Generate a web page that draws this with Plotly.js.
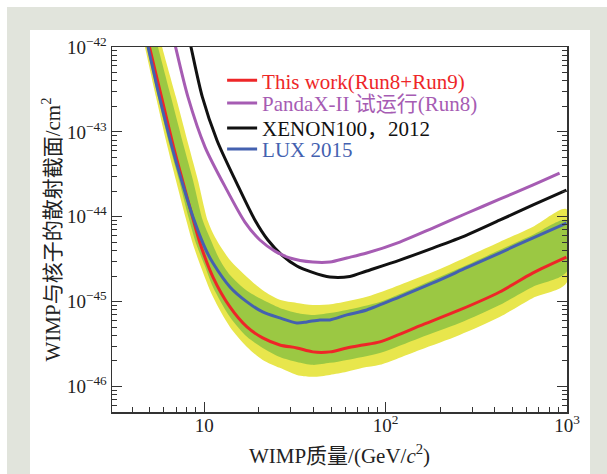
<!DOCTYPE html>
<html>
<head>
<meta charset="utf-8">
<script src="https://cdn.plot.ly/plotly-3.0.1.min.js"></script>
<style>
  html, body { margin:0; padding:0; background:#ffffff; }
  #frame { position:absolute; left:7px; top:7px; width:600px; height:467px; background:#e1e4dc; }
  #panel { position:absolute; left:30px; top:30px; width:560px; height:444px; background:#ffffff; }
  #chart { position:absolute; left:0; top:0; width:607px; height:474px; }
</style>
</head>
<body>
<div id="frame"></div>
<div id="panel"></div>
<div id="chart"></div>
<script>
// ---- Data (WIMP mass in GeV/c^2, cross section in cm^2) ----
const redMass   = [4.74, 4.99, 5.81, 6.77, 7.58, 8.61, 9.47, 11.17, 13.86, 17.2, 21.0, 26.1, 32.4, 39.7, 49.3, 61.1, 74.8, 92.9, 154, 256, 425, 646, 993];
const redSigma  = [1.58e-42, 1e-42, 2.58e-43, 6.67e-44, 2.70e-44, 1.0e-44, 4.91e-45, 1.95e-45, 8.67e-46, 5.04e-46, 3.74e-46, 3.09e-46, 2.85e-46, 2.56e-46, 2.56e-46, 2.85e-46, 3.09e-46, 3.36e-46, 5.18e-46, 7.98e-46, 1.30e-45, 2.17e-45, 3.35e-45];

const luxMass   = [4.68, 4.90, 5.66, 6.64, 7.49, 8.66, 10.22, 11.17, 13.86, 17.2, 21.0, 26.1, 32.4, 36.8, 43.4, 49.3, 61.1, 78.7, 119.7, 182, 280, 425, 646, 993];
const luxSigma  = [1.58e-42, 1e-42, 2.58e-43, 6.67e-44, 2.70e-44, 1.0e-44, 4.06e-45, 2.85e-45, 1.49e-45, 9.93e-46, 7.57e-46, 6.43e-46, 5.62e-46, 5.77e-46, 6.09e-46, 6.09e-46, 6.98e-46, 7.98e-46, 1.14e-45, 1.66e-45, 2.51e-45, 3.74e-45, 5.62e-45, 8.41e-45];

const pandaMass  = [6.62, 6.95, 8.13, 10.09, 13.34, 16.76, 20.28, 24.52, 29.67, 39.7, 49.3, 61.1, 78.7, 119.7, 182, 280, 425, 646, 910];
const pandaSigma = [1.58e-42, 1e-42, 2.58e-43, 6.67e-44, 2.06e-44, 8.67e-45, 5.32e-45, 3.94e-45, 3.27e-45, 2.93e-45, 2.93e-45, 3.27e-45, 3.74e-45, 5.04e-45, 7.36e-45, 1.10e-44, 1.61e-44, 2.36e-44, 3.27e-44];

const xenonMass  = [8.05, 8.45, 9.76, 11.75, 15.1, 19.02, 22.43, 26.79, 32.41, 39.2, 49.27, 63.5, 78.7, 119.7, 182, 280, 425, 646, 993];
const xenonSigma = [1.58e-42, 1e-42, 2.58e-43, 7.98e-44, 2.49e-44, 9.16e-45, 5.32e-45, 3.54e-45, 2.63e-45, 2.23e-45, 1.95e-45, 1.98e-45, 2.30e-45, 3.09e-45, 4.28e-45, 6.09e-45, 9.1e-45, 1.37e-44, 2.06e-44];

// +2 sigma / -2 sigma band (yellow)
const band2UpMass  = [5.57, 5.86, 6.98, 8.24, 9.23, 10.47, 11.45, 13.86, 17.2, 21.0, 26.1, 32.4, 39.7, 51.2, 78.7, 119.7, 182, 280, 425, 646, 993];
const band2UpSigma = [1.58e-42, 1e-42, 2.58e-43, 6.67e-44, 2.70e-44, 8.9e-45, 5.77e-45, 3.09e-45, 1.95e-45, 1.36e-45, 1.05e-45, 9.66e-46, 9.14e-46, 9.4e-46, 1.14e-45, 1.57e-45, 2.23e-45, 3.36e-45, 5.04e-45, 7.57e-45, 1.23e-44];
const band2LoMass  = [4.48, 4.71, 5.42, 6.27, 6.98, 7.93, 8.66, 9.59, 11.17, 13.86, 17.2, 21.0, 26.1, 32.4, 39.7, 49.3, 61.1, 74.8, 92.9, 154, 256, 425, 646, 993];
const band2LoSigma = [1.58e-42, 1e-42, 2.58e-43, 6.67e-44, 2.70e-44, 9.4e-45, 4.78e-45, 2.56e-45, 1.14e-45, 5.04e-46, 2.93e-46, 2.06e-46, 1.66e-46, 1.37e-46, 1.30e-46, 1.37e-46, 1.49e-46, 1.66e-46, 1.80e-46, 2.70e-46, 4.06e-46, 6.6e-46, 1.10e-45, 1.66e-45];

// +1 sigma / -1 sigma band (green)
const band1UpMass  = [5.28, 5.56, 6.56, 7.73, 8.67, 9.84, 10.75, 12.20, 13.86, 17.2, 21.0, 26.1, 32.4, 39.7, 49.3, 61.1, 92.9, 119.7, 182, 280, 425, 646, 993];
const band1UpSigma = [1.58e-42, 1e-42, 2.58e-43, 6.67e-44, 2.70e-44, 8.9e-45, 5.61e-45, 3.09e-45, 2.06e-45, 1.34e-45, 1.05e-45, 8.43e-46, 7.36e-46, 6.97e-46, 7.36e-46, 7.98e-46, 9.9e-46, 1.23e-45, 1.80e-45, 2.70e-45, 4.06e-45, 6.09e-45, 9.1e-45];
const band1LoMass  = [4.59, 4.83, 5.56, 6.47, 7.26, 8.24, 8.99, 10.03, 11.17, 13.86, 17.2, 21.0, 26.1, 32.4, 39.7, 49.3, 61.1, 92.9, 154, 256, 425, 646, 993];
const band1LoSigma = [1.58e-42, 1e-42, 2.58e-43, 6.67e-44, 2.70e-44, 9.4e-45, 4.91e-45, 2.70e-45, 1.49e-45, 6.6e-46, 3.85e-46, 2.85e-46, 2.23e-46, 1.95e-46, 1.80e-46, 1.90e-46, 2.06e-46, 2.49e-46, 3.74e-46, 5.61e-46, 9.14e-46, 1.49e-45, 2.23e-45];

// ---- Labels ----
const seriesNames = ['This work(Run8+Run9)', 'PandaX-II 试运行(Run8)', 'XENON100，2012', 'LUX 2015'];
const xTickVals = [10, 100, 1000];
const xTickText = ['10', '10<sup>2</sup>', '10<sup>3</sup>'];
const yTickVals = [1e-46, 1e-45, 1e-44, 1e-43, 1e-42];
const yTickText = ['10<sup>−46</sup>', '10<sup>−45</sup>', '10<sup>−44</sup>', '10<sup>−43</sup>', '10<sup>−42</sup>'];
const xTitle = 'WIMP质量/(GeV/<i>c</i><sup>2</sup>)';
const yTitle = 'WIMP与核子的散射截面/cm<sup>2</sup>';

// ---- Styles ----
const C_RED = '#ee2628', C_PURPLE = '#a65cb3', C_BLACK = '#111111', C_BLUE = '#4461b0';
const C_YELLOW = '#e8e64c', C_GREEN = '#9bc843';
const FONT = '"Liberation Serif", "Times New Roman", "Noto Sans CJK SC", serif';

function minorTicks(decadeStarts) {
  const out = [];
  decadeStarts.forEach(d => { for (let k = 2; k <= 9; k++) out.push(k * d); });
  return out;
}
const xMinor = minorTicks([1, 10, 100]);
const yMinor = minorTicks([1e-47, 1e-46, 1e-45, 1e-44, 1e-43]);

function bandPolygon(upM, upS, loM, loS) {
  return { x: upM.concat(loM.slice().reverse()), y: upS.concat(loS.slice().reverse()) };
}
const band2 = bandPolygon(band2UpMass, band2UpSigma, band2LoMass, band2LoSigma);
const band1 = bandPolygon(band1UpMass, band1UpSigma, band1LoMass, band1LoSigma);

const lineShape = { shape: 'spline', smoothing: 0.8 };
function colored(name, c) { return '<span style="color:' + c + '">' + name + '</span>'; }

const traces = [
  { x: band2.x, y: band2.y, type: 'scatter', mode: 'lines', fill: 'toself', fillcolor: C_YELLOW,
    line: { width: 0, color: C_YELLOW, ...lineShape }, showlegend: false, hoverinfo: 'skip' },
  { x: band1.x, y: band1.y, type: 'scatter', mode: 'lines', fill: 'toself', fillcolor: C_GREEN,
    line: { width: 0, color: C_GREEN, ...lineShape }, showlegend: false, hoverinfo: 'skip' },
  { x: xenonMass, y: xenonSigma, type: 'scatter', mode: 'lines', name: colored(seriesNames[2], C_BLACK),
    line: { color: C_BLACK, width: 3, ...lineShape }, legend: 'legend3' },
  { x: pandaMass, y: pandaSigma, type: 'scatter', mode: 'lines', name: colored(seriesNames[1], C_PURPLE),
    line: { color: C_PURPLE, width: 3, ...lineShape }, legend: 'legend2' },
  { x: redMass, y: redSigma, type: 'scatter', mode: 'lines', name: colored(seriesNames[0], C_RED),
    line: { color: C_RED, width: 3, ...lineShape }, legend: 'legend' },
  { x: luxMass, y: luxSigma, type: 'scatter', mode: 'lines', name: colored(seriesNames[3], C_BLUE),
    line: { color: C_BLUE, width: 3, ...lineShape }, legend: 'legend4' }
];

const axisCommon = {
  type: 'log', showgrid: false, zeroline: false,
  showline: true, linecolor: '#333333', linewidth: 1.5,
  ticks: 'inside', ticklen: 10, tickwidth: 1.2, tickcolor: '#333333',
  tickmode: 'array',
  tickfont: { family: FONT, size: 19, color: '#222222' }
};

function legendAt(y) {
  return { x: 0.242, y: y, xanchor: 'left', yanchor: 'middle',
    bgcolor: 'rgba(0,0,0,0)', borderwidth: 0,
    font: { family: FONT, size: 21 } };
}

const layout = {
  width: 607, height: 474,
  margin: { l: 112, r: 40, t: 47, b: 62 },
  paper_bgcolor: 'rgba(0,0,0,0)',
  plot_bgcolor: '#ffffff',
  font: { family: FONT, color: '#222222' },
  showlegend: true,
  legend: legendAt(0.9077),
  legend2: legendAt(0.8458),
  legend3: legendAt(0.7773),
  legend4: legendAt(0.7197),
  xaxis: Object.assign({}, axisCommon, {
    range: [0.4915, 3],
    tickvals: xTickVals, ticktext: xTickText,
    mirror: true,
    ticklabelstandoff: -4,
    minor: { tickmode: 'array', tickvals: xMinor, ticks: 'inside', ticklen: 5, tickwidth: 1, tickcolor: '#333333' },
    title: { text: xTitle, font: { family: FONT, size: 21, color: '#222222' }, standoff: 13 }
  }),
  yaxis: Object.assign({}, axisCommon, {
    range: [-46.30, -42],
    tickvals: yTickVals, ticktext: yTickText,
    mirror: 'ticks',
    minor: { tickmode: 'array', tickvals: yMinor, ticks: 'inside', ticklen: 5, tickwidth: 1, tickcolor: '#333333' },
    title: { text: yTitle, font: { family: FONT, size: 21, color: '#222222' }, standoff: 0 }
  })
};

Plotly.newPlot('chart', traces, layout, { displayModeBar: false, staticPlot: true });
</script>
</body>
</html>
